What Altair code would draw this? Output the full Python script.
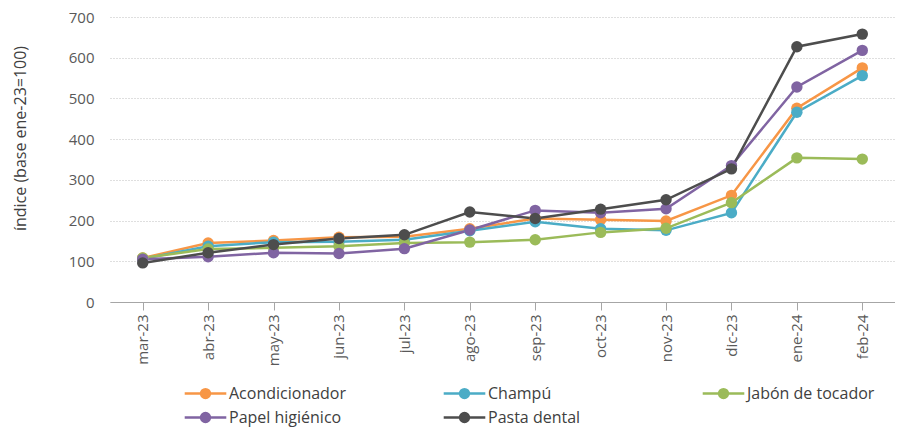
import altair as alt
import pandas as pd

months = ["mar-23", "abr-23", "may-23", "jun-23", "jul-23", "ago-23", "sep-23",
          "oct-23", "nov-23", "dic-23", "ene-24", "feb-24"]
series_names = ["Acondicionador", "Champú", "Jabón de tocador", "Papel higiénico", "Pasta dental"]
colors = ["#F79646", "#4BACC6", "#9BBB59", "#8064A2", "#4D4D4D"]

acondicionador = [108, 145, 151, 159, 160, 180, 205, 202, 199, 262, 476, 575]
champu = [106, 137, 147, 148, 153, 175, 197, 180, 176, 219, 466, 556]
jabon = [108, 130, 133, 137, 145, 147, 153, 171, 181, 244, 354, 351]
papel = [105, 111, 121, 119, 131, 177, 225, 219, 229, 335, 528, 618]
pasta = [96, 121, 141, 156, 165, 221, 205, 228, 251, 327, 627, 658]

values = [acondicionador, champu, jabon, papel, pasta]
rows = []
for name, vals in zip(series_names, values):
    for m, v in zip(months, vals):
        rows.append({"mes": m, "serie": name, "valor": v})
df = pd.DataFrame(rows)

sym = "M-2.6,0L2.6,0M-0.55,0A0.55,0.55,0,1,0,0.55,0A0.55,0.55,0,1,0,-0.55,0Z"

chart = alt.Chart(df).mark_line(
    strokeWidth=2.5,
    point=alt.OverlayMarkDef(filled=True, size=130, opacity=1),
).encode(
    x=alt.X("mes:N", sort=months, title=None,
            scale=alt.Scale(paddingInner=0, paddingOuter=0),
            axis=alt.Axis(labelAngle=-90, bandPosition=0, ticks=True, tickSize=8,
                          domainColor="#A6A6A6", tickColor="#A6A6A6",
                          labelColor="#595959", labelFontSize=15, labelPadding=4,
                          labelFont="Open Sans", grid=False, labelBaseline="middle")),
    y=alt.Y("valor:Q", title="índice (base ene-23=100)",
            scale=alt.Scale(domain=[0, 700], nice=False),
            axis=alt.Axis(values=[0, 100, 200, 300, 400, 500, 600, 700],
                          domain=False, ticks=False, grid=True,
                          gridColor="#BFBFBF", gridDash=[1, 2], gridWidth=1,
                          labelColor="#595959", labelFontSize=15, labelFont="Open Sans",
                          labelPadding=16, titleColor="#404040", titleFontSize=16,
                          titleFont="Open Sans", titleFontWeight="normal", titlePadding=40,
                          titleY=121)),
    color=alt.Color("serie:N", sort=series_names,
                    scale=alt.Scale(domain=series_names, range=colors),
                    legend=alt.Legend(title=None, orient="none", legendX=86, legendY=367,
                                      direction="horizontal",
                                      columns=3, gridAlign="all", columnPadding=81,
                                      rowPadding=5, symbolType=sym, symbolSize=256,
                                      symbolStrokeWidth=2.5, symbolOpacity=1,
                                      labelFont="Open Sans", labelFontSize=16,
                                      labelColor="#404040", labelOffset=14,
                                      labelLimit=300)),
).properties(
    width=785,
    height=285,
    autosize=alt.AutoSizeParams(type="none"),
    padding={"left": 102, "top": 9, "right": 0, "bottom": 127},
).configure_view(stroke=None)

chart.save("out.html", embed_options={"renderer": "svg", "actions": False})
